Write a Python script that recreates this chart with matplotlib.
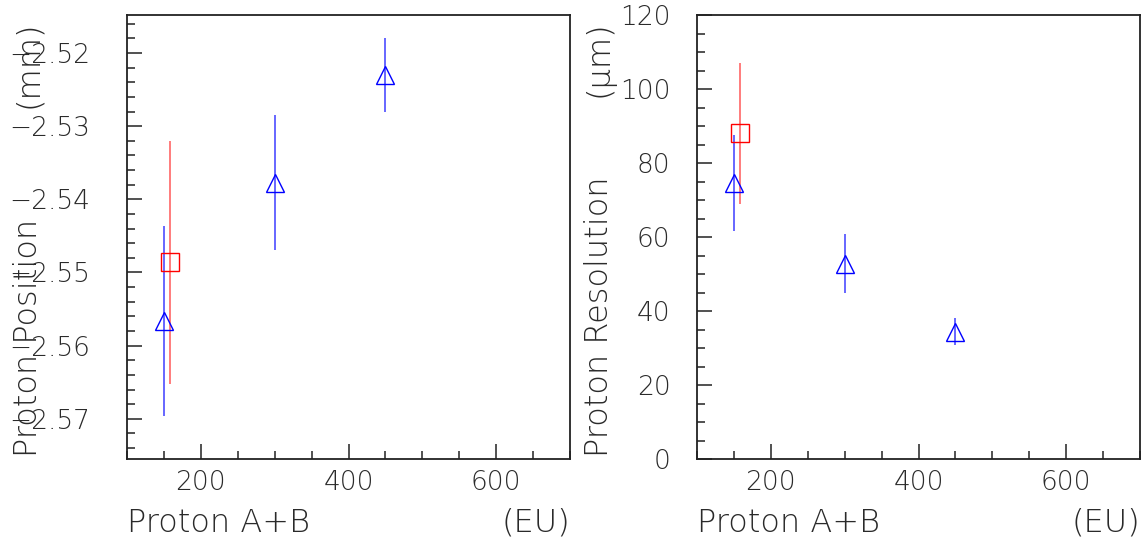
import matplotlib
matplotlib.use("Agg")
import matplotlib.pyplot as plt
from matplotlib.ticker import MultipleLocator, FuncFormatter

# ---------------- data ----------------
# Left panel: proton position (mm)
pos_blue_x = [150, 300, 450]
pos_blue_y = [-2.5566, -2.5377, -2.5230]
pos_blue_err = [0.0130, 0.0092, 0.0050]
pos_red_x = [158]
pos_red_y = [-2.5486]
pos_red_err = [0.0166]

# Right panel: proton resolution (um)
res_blue_x = [150, 300, 450]
res_blue_y = [74.5, 52.8, 34.4]
res_blue_err = [13.0, 8.0, 3.6]
res_red_x = [158]
res_red_y = [88.0]
res_red_err = [19.0]

xlabel_left = "Proton A+B"
xlabel_right = "(EU)"
ylabel_pos = "Proton Position"
ylabel_pos_unit = "(mm)"
ylabel_res = "Proton Resolution"
ylabel_res_unit = "(\u03bcm)"

# ---------------- style ----------------
FAM = ["DejaVu Sans"]
WEIGHT = 200
plt.rcParams["font.family"] = FAM
plt.rcParams["font.weight"] = WEIGHT
W, H = 1148, 545
fig = plt.figure(figsize=(W / 100, H / 100), dpi=100)

def px_axes(x0, y_top, x1, y_bot):
    return fig.add_axes([x0 / W, (H - y_bot) / H, (x1 - x0) / W, (y_bot - y_top) / H])

def fig_px(x, y):
    return (x / W, (H - y) / H)

ax1 = px_axes(127, 15, 570, 459)
ax2 = px_axes(697, 15, 1140, 459)

tick_fs = 19
label_fs = 23

for ax, pad in ((ax1, 26.5), (ax2, 19.0)):
    ax.set_xlim(100, 700)
    ax.xaxis.set_major_locator(MultipleLocator(200))
    ax.xaxis.set_minor_locator(MultipleLocator(50))
    ax.tick_params(axis="both", which="both", direction="in", top=False, right=False,
                   colors="#222222", labelcolor="#2a2a2a")
    ax.tick_params(axis="both", which="major", length=11, width=1.1, labelsize=tick_fs)
    ax.tick_params(axis="both", which="minor", length=5.5, width=1.1)
    ax.tick_params(axis="x", which="major", pad=8)
    ax.tick_params(axis="y", which="major", pad=pad)
    for s in ax.spines.values():
        s.set_linewidth(1.3)
        s.set_color("#222222")
    for lab in ax.get_xticklabels() + ax.get_yticklabels():
        lab.set_fontweight(WEIGHT)

ax1.set_ylim(-2.5755, -2.5148)
ax1.yaxis.set_major_locator(MultipleLocator(0.01))
ax1.yaxis.set_minor_locator(MultipleLocator(0.002))
ax1.yaxis.set_major_formatter(FuncFormatter(lambda v, p: ("%.2f" % v).replace("-", "\u2212")))

ax2.set_ylim(0, 120)
ax2.yaxis.set_major_locator(MultipleLocator(20))
ax2.yaxis.set_minor_locator(MultipleLocator(5))

blue_line = (0.3, 0.3, 1.0)
red_line = (1.0, 0.4, 0.4)

def draw(ax, bx, by, be, rx, ry, re):
    ax.errorbar(bx, by, yerr=be, fmt="none", ecolor=blue_line, elinewidth=1.2, capsize=0)
    ax.errorbar(rx, ry, yerr=re, fmt="none", ecolor=red_line, elinewidth=1.2, capsize=0)
    ax.plot(bx, by, linestyle="none", marker="^", markersize=13, markerfacecolor="none",
            markeredgecolor="blue", markeredgewidth=1.0)
    ax.plot(rx, ry, linestyle="none", marker="s", markersize=12.5, markerfacecolor="none",
            markeredgecolor="red", markeredgewidth=1.0)

draw(ax1, pos_blue_x, pos_blue_y, pos_blue_err, pos_red_x, pos_red_y, pos_red_err)
draw(ax2, res_blue_x, res_blue_y, res_blue_err, res_red_x, res_red_y, res_red_err)

txt_color = "#2a2a2a"
for off in (0, 570):
    fig.text(*fig_px(127 + off, 532), xlabel_left, fontsize=label_fs, ha="left",
             va="baseline", color=txt_color, fontweight=WEIGHT)
    fig.text(*fig_px(570 + off, 532), xlabel_right, fontsize=label_fs, ha="right",
             va="baseline", color=txt_color, fontweight=WEIGHT)

for bx, lab, unit in ((37, ylabel_pos, ylabel_pos_unit), (608, ylabel_res, ylabel_res_unit)):
    fig.text(*fig_px(bx, 457), lab, fontsize=label_fs, rotation=90, rotation_mode="anchor",
             ha="left", va="baseline", color=txt_color, fontweight=WEIGHT)
    fig.text(*fig_px(bx, 20), unit, fontsize=label_fs, rotation=90, rotation_mode="anchor",
             ha="right", va="baseline", color=txt_color, fontweight=WEIGHT)

fig.savefig("out.png", dpi=100)
